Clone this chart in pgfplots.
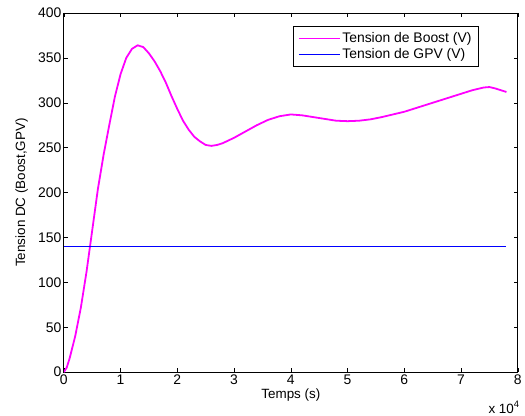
\documentclass[border=0pt]{standalone}
\usepackage{fontspec}
\setmainfont{Liberation Sans}
\usepackage{pgfplots}
\pgfplotsset{compat=1.18}
\begin{document}
\begin{tikzpicture}
\begin{axis}[
  name=ax,
  scale only axis,
  width=455bp, height=360bp,
  xmin=0, xmax=8, ymin=0, ymax=400,
  xtick={0,1,...,8}, ytick={0,50,...,400},
  tick align=inside,
  major tick length=4bp,
  tick style={black, line width=0.5pt},
  axis line style={black, line width=0.8pt},
  /pgf/number format/assume math mode=true,
  ticklabel style={font=\fontsize{14}{16}\selectfont},
  xticklabel style={yshift=1bp},
  yticklabel style={xshift=1bp},
  label style={font=\fontsize{13.5}{15}\selectfont},
  xlabel={Temps (s)},
  ylabel={Tension DC (Boost,GPV)},
  xlabel style={at={(axis description cs:0.5,-0.064)}, anchor=center},
  ylabel style={at={(axis description cs:-0.093,0.5)}, anchor=center},
  legend cell align=left,
  legend style={at={(0.914,0.964)}, anchor=north east, draw=black, line width=0.6pt,
    font=\fontsize{14}{16}\selectfont, inner xsep=5bp, inner ysep=4bp, row sep=1bp},
  legend image code/.code={\draw[#1, line width=0.8pt] plot coordinates {(0cm,0cm) (0.5cm,0cm) (1.45cm,0cm)};},
]
\addplot[color={rgb,1:red,1;green,0;blue,1}, line width=1.8pt, line join=round] coordinates {
(0,0) (0.05,5) (0.1,15) (0.2,40) (0.3,72) (0.4,112) (0.5,158) (0.6,204) (0.7,242)
(0.8,275) (0.9,307) (1.0,332) (1.1,350) (1.2,360) (1.3,364) (1.4,362) (1.5,355)
(1.6,346) (1.7,335) (1.8,322) (1.9,307) (2.0,293) (2.1,280) (2.2,270) (2.3,262)
(2.4,257) (2.5,253) (2.6,252) (2.7,253) (2.8,255) (2.9,258) (3.0,261) (3.2,268)
(3.4,275) (3.6,281) (3.8,285) (4.0,287) (4.2,286) (4.4,284) (4.6,282) (4.8,280)
(5.0,279.5) (5.2,280) (5.4,281.5) (5.6,284) (5.8,287) (6.0,290) (6.2,294) (6.4,298)
(6.6,302) (6.8,306) (7.0,310) (7.2,314) (7.4,317) (7.5,317.5) (7.6,316) (7.7,314) (7.8,312)
};
\addlegendentry{Tension de Boost (V)}
\addplot[color=blue, line width=0.7pt] coordinates {(0,140) (7.8,140)};
\addlegendentry{Tension de GPV (V)}
\end{axis}
\node[anchor=base east, font=\fontsize{13.5}{15}\selectfont, inner sep=0pt] at ([xshift=2bp,yshift=-41bp]ax.south east) {x 10\textsuperscript{4}};
\path[use as bounding box] ([xshift=-64bp,yshift=-43bp]ax.south west) rectangle ([xshift=6bp,yshift=13bp]ax.north east);
\end{tikzpicture}
\end{document}
